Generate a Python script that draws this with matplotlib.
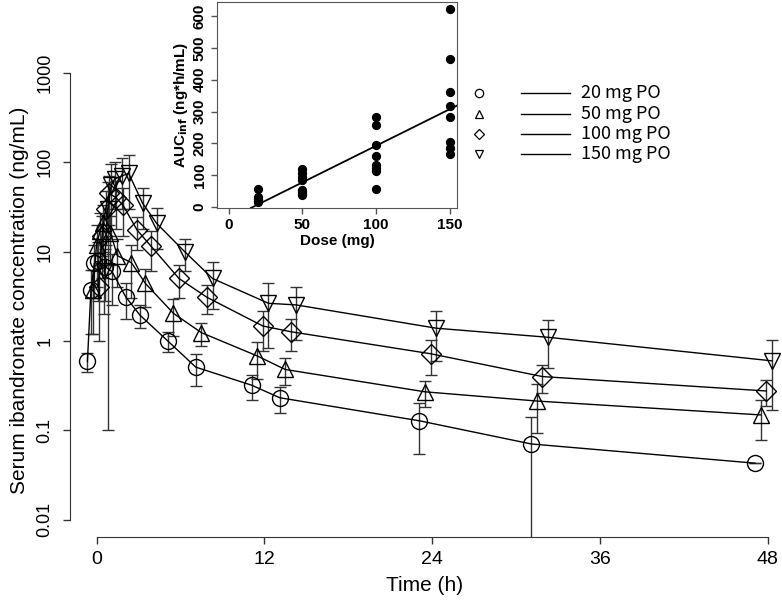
import numpy as np
import matplotlib
matplotlib.use("Agg")
import matplotlib.pyplot as plt
from matplotlib.lines import Line2D

plt.rcParams['font.family'] = ['Liberation Sans Narrow', 'Liberation Sans', 'DejaVu Sans']

# ---------------- data ----------------
nominal_time = [0.25, 0.5, 0.75, 1, 1.5, 2, 3, 4, 6, 8, 12, 14, 24, 32, 48]
dose_labels = ["20 mg PO", "50 mg PO", "100 mg PO", "150 mg PO"]
dose_shift = [-0.9, -0.5, -0.1, 0.3]   # horizontal dodge used in the original plot

conc_20 = [0.59, 3.7, 7.5, 7.8, 6.8, 6.0, 3.1, 1.95, 1.0, 0.51, 0.32, 0.232, 0.128, 0.0705, 0.043]
sd_20 = [0.14, 2.5, 4.5, 5.0, 4.0, 3.5, 1.35, 0.55, 0.25, 0.2, 0.1, 0.077, 0.073, 0.072, 0.0]

conc_50 = [3.7, 12, 17, 21, 16, 9.0, 7.5, 4.4, 2.04, 1.24, 0.68, 0.48, 0.27, 0.213, 0.149]
sd_50 = [2.5, 8, 10, 12, 9, 5, 4.5, 2.0, 0.9, 0.35, 0.3, 0.16, 0.085, 0.12, 0.07]

conc_100 = [4.0, 15, 30, 45, 40, 33, 17.4, 11.5, 5.0, 3.08, 1.47, 1.27, 0.72, 0.40, 0.276]
sd_100 = [3, 10, 18, 25, 22, 18, 7, 5.5, 2.0, 1.1, 0.7, 0.5, 0.3, 0.14, 0.09]

conc_150 = [6.0, 30, 55, 65, 70, 75, 34.7, 20.7, 10.0, 5.0, 2.64, 2.53, 1.39, 1.10, 0.60]
sd_150 = [4, 29.9, 40, 35, 40, 45, 17, 10, 3.9, 2.7, 1.8, 1.5, 0.8, 0.6, 0.43]

markers = ['o', '^', 'D', 'v']

# inset: AUCinf by dose
auc_dose_20 = [58, 30, 25, 20, 16]
auc_dose_50 = [120, 108, 95, 85, 55, 48, 42, 38]
auc_dose_100 = [284, 257, 194, 159, 131, 122, 112, 58]
auc_dose_150 = [621, 466, 361, 316, 284, 203, 185, 167]
doses = [20, 50, 100, 150]

x_ticks = [0, 12, 24, 36, 48]
y_ticks = [0.01, 0.1, 1, 10, 100, 1000]
y_ticklabels = ["0.01", "0.1", "1", "10", "100", "1000"]

# ---------------- figure ----------------
W, H = 782, 600
fig = plt.figure(figsize=(W / 100, H / 100), dpi=100)

def px_rect(l, t, r, b):
    return [l / W, (H - b) / H, (r - l) / W, (b - t) / H]

ax = fig.add_axes(px_rect(70, 0, 780, 537))
ax.set_yscale('log')

concs = [conc_20, conc_50, conc_100, conc_150]
sds = [sd_20, sd_50, sd_100, sd_150]
for conc, sd, mk, sh in zip(concs, sds, markers, dose_shift):
    t = np.array(nominal_time) + sh
    c = np.array(conc)
    s = np.array(sd)
    ms = 10 if mk == 'D' else 11.5
    ax.errorbar(t, c, yerr=[s, s], fmt='none', ecolor='#333333', elinewidth=1.0,
                capsize=4.6, capthick=1.0, zorder=2)
    ax.plot(t, c, color='black', lw=1.0, marker=mk, markersize=ms,
            markerfacecolor='none', markeredgecolor='black', markeredgewidth=1.0, zorder=3)

ax.set_xlim(-1.896, 48.89)
ax.set_ylim(10 ** (-2.1924), 10 ** 3.814)
for s in ['top', 'right']:
    ax.spines[s].set_visible(False)
ax.spines['left'].set_bounds(0.01, 1000)
ax.spines['bottom'].set_bounds(0, 48)
for s in ['left', 'bottom']:
    ax.spines[s].set_color('#333333')
ax.set_xticks(x_ticks)
ax.set_xticklabels([str(v) for v in x_ticks], fontsize=14)
ax.set_yticks(y_ticks)
ax.set_yticklabels(y_ticklabels, fontsize=13, rotation=90, va='center')
ax.minorticks_off()
ax.tick_params(direction='out', length=5, width=1, color='#333333')
ax.tick_params(axis='y', pad=7)
ax.tick_params(axis='x', pad=5)
ax.set_xlabel("Time (h)", fontsize=15, labelpad=6)
ax.set_ylabel("Serum ibandronate concentration (ng/mL)", fontsize=15)
ax.yaxis.set_label_coords(-0.058, 0.44)

# legend (markers separated from lines, as in the original)
for i, (lab, mk) in enumerate(zip(dose_labels, markers)):
    yy = 1 - (93.5 + 20.3 * i) / H
    fig.add_artist(Line2D([479 / W], [yy], marker=mk, markersize=6 if mk != 'D' else 5,
                          markerfacecolor='none', markeredgecolor='black',
                          markeredgewidth=0.9, linestyle='none'))
    fig.add_artist(Line2D([521 / W, 570 / W], [yy, yy], color='black', lw=1.0))
    fig.text(581 / W, yy, lab, fontsize=13, va='center', ha='left',
             family=['Noto Sans CJK JP', 'DejaVu Sans'])

# ---------------- inset ----------------
axi = fig.add_axes(px_rect(217, 2, 457, 208))
auc_lists = [auc_dose_20, auc_dose_50, auc_dose_100, auc_dose_150]
xs, ys = [], []
for d, vals in zip(doses, auc_lists):
    xs += [d] * len(vals)
    ys += vals
xs = np.array(xs, float)
ys = np.array(ys, float)
axi.scatter(xs, ys, s=32, color='black', zorder=3)
slope, intercept = np.polyfit(xs, ys, 1)
axi.axline((0, intercept), slope=slope, color='black', lw=1.3)
axi.set_xlim(-7.9, 154.9)
axi.set_ylim(-3, 644)
axi.set_xticks([0, 50, 100, 150])
axi.set_yticks([0, 100, 200, 300, 400, 500, 600])
axi.tick_params(direction='out', length=4, width=1, color='#555555', labelsize=11)
for lab in axi.get_xticklabels() + axi.get_yticklabels():
    lab.set_fontweight('bold')
    lab.set_family(['Liberation Sans', 'DejaVu Sans'])
for lab in axi.get_yticklabels():
    lab.set_rotation(90)
    lab.set_va('center')
for s in axi.spines.values():
    s.set_color('#555555')
axi.set_xlabel("Dose (mg)", fontsize=11, fontweight='bold', labelpad=1,
              family=['Liberation Sans', 'DejaVu Sans'])
axi.set_ylabel(r"AUC$_{\mathbf{inf}}$ (ng*h/mL)", fontsize=11, fontweight='bold', labelpad=2,
              family=['Liberation Sans', 'DejaVu Sans'])

fig.savefig("out.png", dpi=100)
